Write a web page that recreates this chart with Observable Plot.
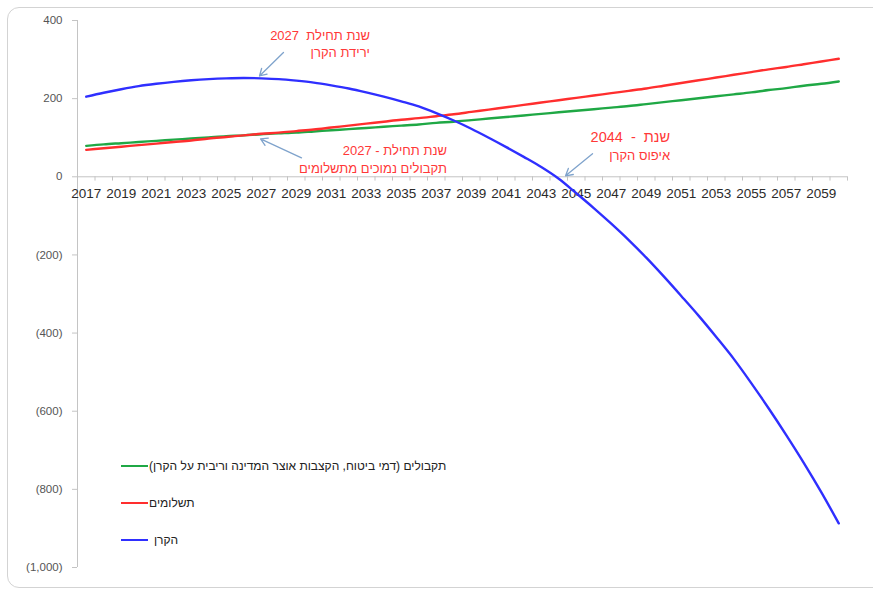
<!DOCTYPE html>
<html><head><meta charset="utf-8">
<script src="https://cdn.jsdelivr.net/npm/d3@7"></script>
<script src="https://cdn.jsdelivr.net/npm/@observablehq/plot@0.6"></script>
<style>
body{margin:0;width:873px;height:590px;overflow:hidden;background:#fff;font-family:"Liberation Sans",Arial,sans-serif;position:relative}
#frame{position:absolute;left:7px;top:7px;width:885px;height:581px;border:1.5px solid #d3d3d3;border-radius:12px;box-sizing:border-box}
#chart{position:absolute;left:0;top:0}
#legend{position:absolute;left:121px;top:0;font-size:12px;color:#222}
.item{position:absolute;left:0;height:16px;display:flex;align-items:center;white-space:nowrap}
.swatch{width:27px;height:2.5px;margin-right:1px}
.note{position:absolute;transform:translateY(-50%);text-align:right;color:#ff3838;font-size:13px;line-height:17.5px;white-space:pre}
</style></head><body>
<div id="frame"></div><div id="chart"></div><div id="legend"></div><div id="notes"></div>
<script>
// categories
const years = [2017,2018,2019,2020,2021,2022,2023,2024,2025,2026,2027,2028,2029,2030,2031,2032,2033,2034,2035,2036,2037,2038,2039,2040,2041,2042,2043,2044,2045,2046,2047,2048,2049,2050,2051,2052,2053,2054,2055,2056,2057,2058,2059,2060];
// series
const receipts = [79,83,86,89,92,95,98,101,104,106,109,111,113,116,119,122,125,128,131,134,138,141,145,149,153,157,161,165,169,173,177,181,186,191,196,201,206,211,216,222,227,233,238,244];
const payments = [69,73,77,81,85,89,93,98,102,106,110,113,117,121,126,131,136,141,146,150,155,160,166,172,178,184,190,196,202,208,214,220,226,233,240,247,254,261,268,275,281,288,295,302];
const fund = [205,215,224,232,238,243,247,250,252,253,252,250,246,241,234,226,216,205,193,180,163,144,123,100,76,51,25,-5,-42,-80,-120,-162,-207,-255,-305,-356,-410,-466,-528,-593,-661,-732,-807,-887];
const seriesNames = ["תקבולים (דמי ביטוח, הקצבות אוצר המדינה וריבית על הקרן)","תשלומים","הקרן"];
const seriesColors = ["#1fa845","#ff2e2e","#2f2fff"];
// tick labels
const yTicks = [400,200,0,-200,-400,-600,-800,-1000];
const xLabels = [2017,2019,2021,2023,2025,2027,2029,2031,2033,2035,2037,2039,2041,2043,2045,2047,2049,2051,2053,2055,2057,2059];
// annotations
const noteLines = [["שנת תחילת  2027","ירידת הקרן"],["שנת תחילת - 2027","תקבולים נמוכים מתשלומים"],["שנת  -  2044","איפוס הקרן"]];
const noteYears = [2033.24, 2037.64, 2050.39];
const noteValues = [339, 43.5, 77];
const arrowFrom = [[2028.27,318],[2029.3,48.6],[2045.93,59]];
const arrowTo = [[2026.9,258],[2026.96,97],[2044.39,2.6]];

const allSeries = [receipts, payments, fund];
const rows = allSeries.flatMap((vals, s) => years.map((yr, i) => ({year: yr, value: vals[i], s})));
const boundaries = years.map(y => y - 0.5).concat([years[years.length-1] + 0.5]);
const arrows = arrowFrom.map((f, i) => ({x1: f[0], y1: f[1], x2: arrowTo[i][0], y2: arrowTo[i][1]}));
const fmt = d3.format(",");
const yFmt = d => d < 0 ? `(${fmt(-d)})` : fmt(d);
const axisGray = "#c4c4c4";

const chart = Plot.plot({
  width: 873, height: 590,
  marginLeft: 77, marginRight: 26, marginTop: 20, marginBottom: 23,
  style: {fontFamily: "'Liberation Sans', Arial, sans-serif", background: "transparent", overflow: "visible"},
  x: {domain: [2016.5, 2060.5], axis: null},
  y: {domain: [-1000, 400]},
  marks: [
    Plot.ruleX([2016.5], {stroke: axisGray}),
    Plot.axisY({ticks: yTicks, tickSize: 5, tickPadding: 10, tickFormat: yFmt, stroke: axisGray, fill: "#555", fontSize: 11.5, label: null}),
    Plot.ruleY([0], {stroke: axisGray}),
    Plot.ruleX(boundaries, {y1: 0, y2: -11, stroke: axisGray}),
    Plot.text(xLabels, {x: d => d, y: 0, dy: 17, text: d => String(d), fontSize: 13.5, fill: "#2a2a2a"}),
    ...[0,1,2].map(s => Plot.line(rows.filter(r => r.s === s), {x: "year", y: "value", stroke: seriesColors[s], strokeWidth: 2.4, curve: "monotone-x"})),
    Plot.arrow(arrows, {x1: "x1", y1: "y1", x2: "x2", y2: "y2", stroke: "#7fa3cc", strokeWidth: 1.3, headLength: 9})
  ]
});
document.getElementById("chart").appendChild(chart);

// annotations placed through the chart's own scales
const sx = chart.scale("x"), sy = chart.scale("y");
const notesDiv = document.getElementById("notes");
noteLines.forEach((lines, i) => {
  const n = document.createElement("div");
  n.className = "note";
  n.style.right = (873 - sx.apply(noteYears[i])) + "px";
  n.style.top = sy.apply(noteValues[i]) + "px";
  lines.forEach((t, j) => {
    const l = document.createElement("div");
    l.dir = "rtl";
    l.textContent = t;
    if (i === 2 && j === 0) l.style.fontSize = "14.5px";
    n.appendChild(l);
  });
  notesDiv.appendChild(n);
});

const legend = document.getElementById("legend");
const legendTops = [458, 495, 532];
seriesNames.forEach((name, i) => {
  const item = document.createElement("div");
  item.className = "item";
  item.style.top = legendTops[i] + "px";
  const sw = document.createElement("div");
  sw.className = "swatch";
  sw.style.background = seriesColors[i];
  const label = document.createElement("span");
  label.dir = "rtl";
  label.textContent = name;
  if (i === 2) label.style.marginLeft = "5px";
  item.appendChild(sw); item.appendChild(label);
  legend.appendChild(item);
});
</script></body></html>
